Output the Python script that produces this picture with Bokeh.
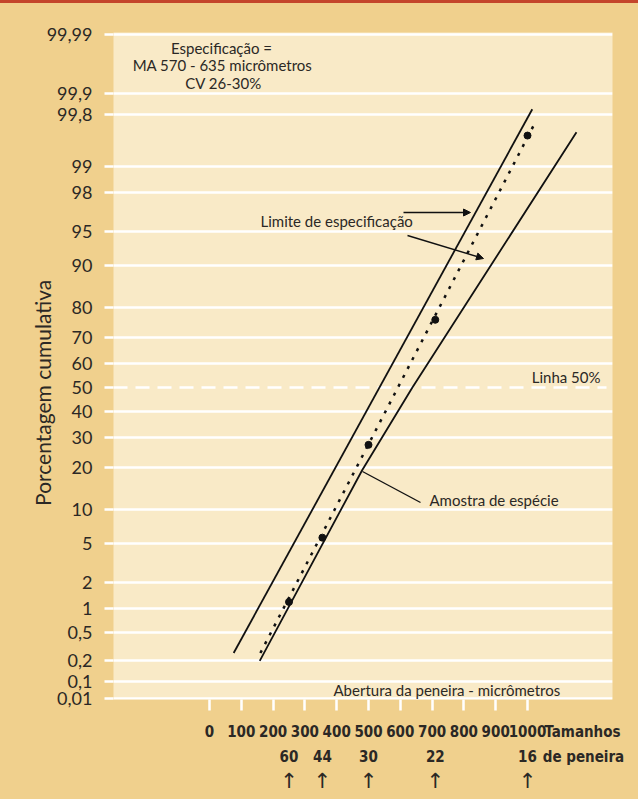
from statistics import NormalDist

from bokeh.core.properties import value
from bokeh.embed import file_html
from bokeh.models import Arrow, FixedTicker, LinearAxis, NormalHead, Range1d
from bokeh.plotting import figure
from bokeh.resources import INLINE

# ---- data -----------------------------------------------------------------
# probability-axis ticks (cumulative percent) and their printed labels
pct_ticks = [0.01, 0.1, 0.2, 0.5, 1, 2, 5, 10, 20, 30, 40, 50, 60, 70, 80, 90,
             95, 98, 99, 99.8, 99.9, 99.99]
pct_labels = ["0,01", "0,1", "0,2", "0,5", "1", "2", "5", "10", "20", "30", "40",
              "50", "60", "70", "80", "90", "95", "98", "99", "99,8", "99,9", "99,99"]

# sieve opening axis (micrometres)
size_ticks = [0, 100, 200, 300, 400, 500, 600, 700, 800, 900, 1000]

# sieve mesh numbers and their openings
sieve_mesh = ["60", "44", "30", "22", "16"]
sieve_opening = [250, 355, 500, 710, 1000]

# sample: cumulative percent passing at each sieve
sample_pct = [1.2, 5.7, 27.3, 76.2, 99.6]

# straight-line fit through the sample
fit_size = [160, 1025]
fit_pct = [0.26, 99.74]

# specification limits
spec_fine_size = [76, 1015]
spec_fine_pct = [0.26, 99.83]
spec_coarse_size = [158, 480, 638, 1154]
spec_coarse_pct = [0.2, 19.2, 50, 99.64]

# ---- probability scale ----------------------------------------------------
ND = NormalDist()
Z_01 = ND.inv_cdf(0.001)


def prob_axis(p):
    """Normal-probability position of a cumulative percent; the tail below
    0.1 % is compressed."""
    z = ND.inv_cdf(p / 100.0)
    if p < 0.1:
        z = Z_01 + (z - Z_01) * 0.29
    return z


def px_x(px):
    return (px - 209) / 0.318


def px_z(py):
    return (387 - py) / 95.0


INK = "#2b2825"
TAN = "#F0D08D"
CREAM = "#F9EAC7"
SANS = "Lato"
NARROW = "Liberation Sans Narrow, DejaVu Sans Condensed, Roboto"

X0, X1 = px_x(113), px_x(612)

p = figure(width=638, height=799, output_backend="svg", toolbar_location=None,
           x_range=Range1d(X0, X1),
           y_range=Range1d(px_z(699), px_z(32)),
           x_axis_location=None,
           min_border_left=113, min_border_right=26,
           min_border_top=32, min_border_bottom=100)
p.border_fill_color = None
p.background_fill_color = CREAM
p.outline_line_color = None
p.styles = {"background": "linear-gradient(to bottom, #C4452B 0px, #C4452B 3px, %s 3px)" % TAN}

# y axis: probability ticks
ypos = [prob_axis(t) for t in pct_ticks]
p.yaxis.ticker = FixedTicker(ticks=ypos)
p.yaxis.major_label_overrides = {y: lab for y, lab in zip(ypos, pct_labels)}
p.yaxis.axis_line_color = None
p.yaxis.major_tick_line_color = "white"
p.yaxis.major_tick_line_width = 2.5
p.yaxis.major_tick_out = 9
p.yaxis.major_tick_in = 0
p.yaxis.minor_tick_line_color = None
p.yaxis.major_label_standoff = 12
p.yaxis.major_label_text_font = SANS
p.yaxis.major_label_text_font_size = "18px"
p.yaxis.major_label_text_color = INK
# trailing no-break spaces move the title a little down the axis
p.yaxis.axis_label = "Porcentagem cumulativa" + "\u00a0" * 10
p.yaxis.axis_label_text_font = SANS
p.yaxis.axis_label_text_font_style = "normal"
p.yaxis.axis_label_text_font_size = "21px"
p.yaxis.axis_label_text_color = INK
p.yaxis.axis_label_standoff = -11


def bottom_axis(ticks, labels, standoff, font, size, style="bold",
                tick_color=None, tick_out=0):
    ax = LinearAxis(ticker=FixedTicker(ticks=ticks),
                    major_label_overrides={t: s for t, s in zip(ticks, labels)},
                    axis_line_color=None, minor_tick_line_color=None,
                    major_tick_line_color=tick_color, major_tick_line_width=2.5,
                    major_tick_out=tick_out, major_tick_in=0,
                    major_label_standoff=standoff,
                    major_label_text_font=font,
                    major_label_text_font_size=size,
                    major_label_text_font_style=style,
                    major_label_text_color=INK)
    p.add_layout(ax, "below")
    return ax


# white tick marks of the opening axis
bottom_axis(size_ticks, [""] * len(size_ticks), 0, NARROW, "0px",
            tick_color="white", tick_out=11)
# opening values, with the axis name at the right end
bottom_axis(size_ticks + [px_x(582)], [str(t) for t in size_ticks] + ["Tamanhos"],
            12, NARROW, "15px")
# sieve mesh numbers
bottom_axis(sieve_opening + [px_x(583)], sieve_mesh + ["de peneira"],
            4, NARROW, "15px")
# arrows pointing at the openings of the sieves
bottom_axis(sieve_opening, ["\u2191"] * len(sieve_opening), 0, "DejaVu Sans",
            "21px", style="normal")

# grid: solid white lines (the 50 % line is drawn dashed below)
p.xgrid.grid_line_color = None
p.ygrid.ticker = FixedTicker(ticks=[y for y, t in zip(ypos, pct_ticks) if t != 50])
p.ygrid.grid_line_color = "white"
p.ygrid.grid_line_width = 2.5

# dashed 50 % line, built from short solid dashes across the whole width
z50 = prob_axis(50)
dash_starts = list(range(113, 606, 22))
p.segment(x0=[px_x(s) for s in dash_starts],
          x1=[px_x(min(s + 14, 606)) for s in dash_starts],
          y0=[z50] * len(dash_starts), y1=[z50] * len(dash_starts),
          line_color="white", line_width=2.5)


def note(text, x, y, align="left", size="15px"):
    p.text(x=[x], y=[y], text=[text], text_align=align, text_baseline="middle",
           text_font=value(SANS), text_font_size=size, text_color=INK)


def pointer(x0, y0, x1, y1, head=True):
    p.add_layout(Arrow(x_start=px_x(x0), y_start=px_z(y0), x_end=px_x(x1),
                       y_end=px_z(y1), line_width=1.4, line_color="#111111",
                       end=NormalHead(size=7, fill_color="#111111",
                                      line_color="#111111") if head else None))


# texts inside the chart
note("Especificação =", px_x(221), px_z(47), "center")
note("MA 570 - 635 micrômetros", px_x(222), px_z(64), "center")
note("CV 26-30%", px_x(223), px_z(82), "center")
note("Limite de especificação", px_x(260), px_z(220))
note("Linha 50%", px_x(600), px_z(376), "right")
note("Amostra de espécie", px_x(429), px_z(499))
note("Abertura da peneira - micrômetros", px_x(333), px_z(689))

# specification limits
p.line(spec_fine_size, [prob_axis(v) for v in spec_fine_pct],
       line_color="#111111", line_width=1.8)
p.line(spec_coarse_size, [prob_axis(v) for v in spec_coarse_pct],
       line_color="#111111", line_width=1.8)

# fitted sample line and sample points
p.line(fit_size, [prob_axis(v) for v in fit_pct], line_color="#111111",
       line_width=2.5, line_dash="3 7")
p.scatter(sieve_opening, [prob_axis(v) for v in sample_pct], size=7,
          color="#111111")

# callout pointers
pointer(403, 212, 470, 212)
pointer(407, 235, 483, 258)
pointer(362, 471, 420, 502, head=False)

open("out.html", "w").write(file_html(p, INLINE))
